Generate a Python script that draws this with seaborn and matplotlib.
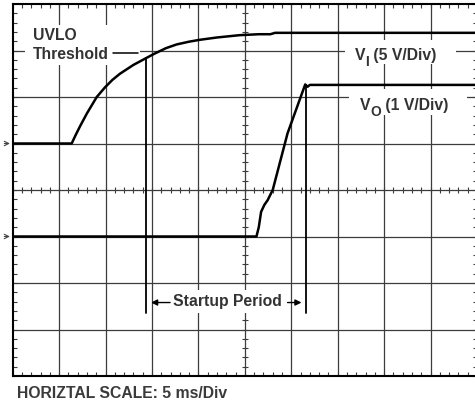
import numpy as np
import matplotlib
matplotlib.use("Agg")
import matplotlib.pyplot as plt
from matplotlib.patches import Rectangle
import seaborn as sns

# Scope traces, in screen divisions (x: 0..10, y: 0..8 from bottom)
vi_x = [0.0, 1.27, 1.35, 1.45, 1.6, 1.81, 1.99, 2.15, 2.31, 2.6, 2.88, 3.05, 3.3, 3.53,
        3.8, 4.03, 4.4, 4.89, 5.3, 5.55, 5.65, 7.0, 10.2]
vi_y = [5.0, 5.0, 5.17, 5.37, 5.65, 6.0, 6.21, 6.37, 6.5, 6.69, 6.84, 6.93, 7.05, 7.13,
        7.19, 7.23, 7.28, 7.33, 7.35, 7.35, 7.38, 7.38, 7.38]

vo_x = [0.0, 5.25, 5.3, 5.35, 5.42, 5.49, 5.6, 5.92, 6.3, 6.35, 6.4, 10.2]
vo_y = [3.0, 3.0, 3.2, 3.53, 3.68, 3.78, 4.0, 5.22, 6.27, 6.22, 6.26, 6.26]

# startup period markers (divisions)
startup_start = 2.88
startup_end = 6.32
marker_bottom = 1.35

sns.set_style("white")
plt.rcParams['font.family'] = ['Liberation Sans', 'DejaVu Sans']

fig = plt.figure(figsize=(4.75, 4.04), dpi=100)
ax = fig.add_axes([12.7 / 475, 28 / 404, 464.3 / 475, 372 / 404])
ax.set_xlim(0, 10)
ax.set_ylim(0, 8)

# graticule
for gx in range(1, 10):
    ax.axvline(gx, color='#3c3c3c', lw=0.9, zorder=1)
for gy in range(1, 8):
    ax.axhline(gy, color='#3c3c3c', lw=0.9, zorder=1)

# ticks on the center crosshair
minor = np.arange(0, 10.01, 0.2)
ax.vlines(minor, 4 - 0.065, 4 + 0.065, color='#3c3c3c', lw=0.8, zorder=1)
ymin = np.arange(0, 8.01, 0.2)
ax.hlines(ymin, 5 - 0.065, 5 + 0.065, color='#3c3c3c', lw=0.8, zorder=1)

# ticks on the border
ax.set_xticks(minor)
ax.set_yticks(ymin)
ax.tick_params(direction='in', length=3, width=0.8, color='#3c3c3c',
               top=True, right=True, bottom=True, left=True,
               labelbottom=False, labelleft=False)
for s in ax.spines.values():
    s.set_color('black')
    s.set_linewidth(1.5)

# white boxes behind labels
ax.add_patch(Rectangle((0.26, 6.69), 2.48, 0.86, facecolor='white', edgecolor='none', zorder=2))
ax.add_patch(Rectangle((7.15, 6.72), 2.40, 0.50, facecolor='white', edgecolor='none', zorder=2))
ax.add_patch(Rectangle((7.25, 5.62), 2.54, 0.55, facecolor='white', edgecolor='none', zorder=2))

# traces
sns.lineplot(x=vi_x, y=vi_y, ax=ax, color='black', lw=1.8, estimator=None, sort=False, zorder=4)
sns.lineplot(x=vo_x, y=vo_y, ax=ax, color='black', lw=1.8, estimator=None, sort=False, zorder=4)

# startup period markers
top1 = np.interp(startup_start, vi_x, vi_y)
top2 = np.interp(startup_end, vo_x, vo_y)
ax.plot([startup_start, startup_start], [marker_bottom, top1], color='black', lw=1.3, zorder=4)
ax.plot([startup_end, startup_end], [marker_bottom, top2], color='black', lw=1.3, zorder=4)

fs = 11.3
tc = '#333333'
ax.text(0.44, 7.33, 'UVLO', fontsize=fs, fontweight='bold', color=tc, va='center', ha='left', zorder=5)
ax.text(0.44, 6.92, 'Threshold', fontsize=fs, fontweight='bold', color=tc, va='center', ha='left', zorder=5)
ax.plot([2.16, 2.69], [6.94, 6.94], color='black', lw=1.1, zorder=5)


def channel_label(x, y, sub, rest):
    v = ax.text(x, y, 'V', fontsize=fs, fontweight='bold', color=tc,
                va='bottom', ha='left', zorder=5)
    s = ax.annotate(sub, xy=(1, 0), xycoords=v, xytext=(0.2, -4.3), textcoords='offset points',
                    fontsize=fs * 0.88, fontweight='bold', color=tc, va='bottom', ha='left', zorder=5)
    ax.annotate(rest, xy=(1, 0), xycoords=(s, v), xytext=(0, 0), textcoords='offset points',
                fontsize=fs, fontweight='bold', color=tc, va='bottom', ha='left', zorder=5)


channel_label(7.36, 6.74, 'I', ' (5 V/Div)')
channel_label(7.47, 5.66, 'O', ' (1 V/Div)')

ax.text(4.62, 1.6, 'Startup Period', fontsize=fs, fontweight='bold', color=tc,
        va='center', ha='center', bbox=dict(facecolor='white', edgecolor='none', pad=3), zorder=5)
ax.annotate('', xy=(startup_start + 0.04, 1.58), xytext=(3.45, 1.58),
            arrowprops=dict(arrowstyle='-|>', color='black', lw=1.0, mutation_scale=9), zorder=6)
ax.annotate('', xy=(startup_end - 0.04, 1.58), xytext=(5.86, 1.58),
            arrowprops=dict(arrowstyle='-|>', color='black', lw=1.0, mutation_scale=9), zorder=6)

# channel ground markers
for gy in [vi_y[0], vo_y[0]]:
    ax.annotate('', xy=(0.0, gy), xytext=(-0.24, gy), annotation_clip=False,
                arrowprops=dict(arrowstyle='->', color='#444444', lw=0.8, mutation_scale=8))

fig.text(17 / 475, 1 - 394 / 404, 'HORIZTAL SCALE: 5 ms/Div', fontsize=fs, fontweight='bold',
         color='#3a3a3a', va='center', ha='left')

fig.savefig('out.png', dpi=100)
